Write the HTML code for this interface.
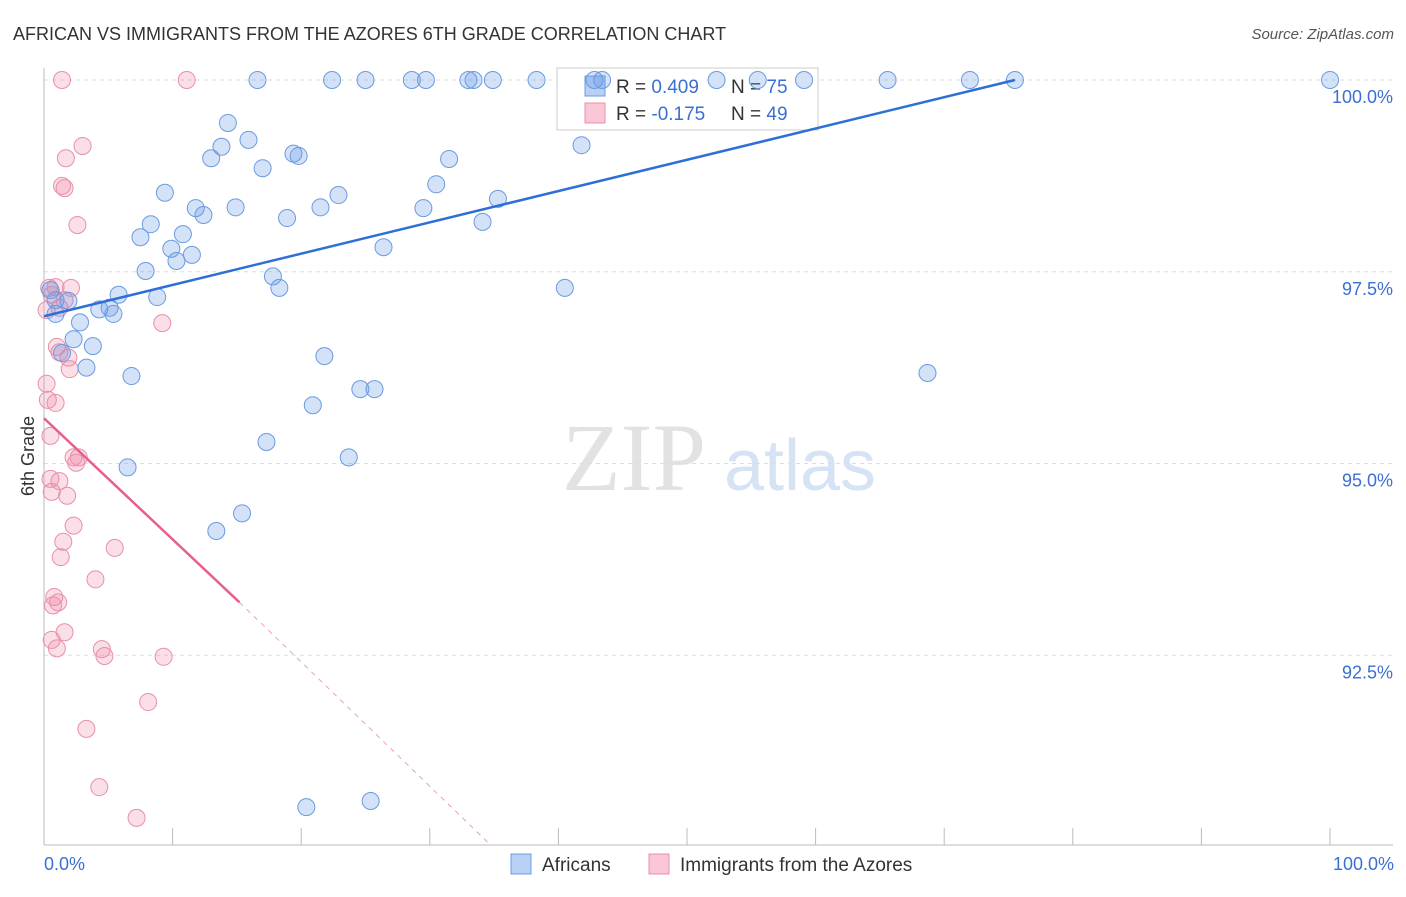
<!DOCTYPE html>
<html><head><meta charset="utf-8"><style>
body{margin:0;background:#fff;font-family:"Liberation Sans",sans-serif}
</style></head><body>
<svg id="chart" width="1406" height="892" xmlns="http://www.w3.org/2000/svg" font-family="Liberation Sans, sans-serif">
<text x="13" y="40" font-size="18" fill="#333">AFRICAN VS IMMIGRANTS FROM THE AZORES 6TH GRADE CORRELATION CHART</text>
<text x="1394" y="39" font-size="15" fill="#555" text-anchor="end" font-style="italic">Source: ZipAtlas.com</text>
<g>
<text x="634" y="490" font-size="96" fill="#e2e2e2" font-family="Liberation Serif, serif" text-anchor="middle">ZIP</text>
<text x="800" y="490" font-size="72" fill="#d6e3f5" text-anchor="middle">atlas</text>
</g>
<g id="grid"></g>
<line x1="44" y1="68" x2="44" y2="845" stroke="#bbb"/>
<line x1="44" y1="845" x2="1393" y2="845" stroke="#bbb"/>
<g id="xticks"></g>
<text transform="translate(34,456) rotate(-90)" font-size="18" fill="#333" text-anchor="middle">6th Grade</text>
<text x="44" y="870" font-size="18" fill="#3b6fd4">0.0%</text>
<text x="1394" y="870" font-size="18" fill="#3b6fd4" text-anchor="end">100.0%</text>
<g>
<rect x="557" y="68" width="261" height="62" fill="#fff" stroke="#ccc"/>
<rect x="585" y="76" width="20" height="20" fill="#b8d0f5" stroke="#6a9be0"/>
<rect x="585" y="103" width="20" height="20" fill="#f9c6d6" stroke="#e890ab"/>
<text x="616" y="93" font-size="19" fill="#333">R = <tspan fill="#3b6fd4">0.409</tspan><tspan x="731">N = </tspan><tspan fill="#3b6fd4">75</tspan></text>
<text x="616" y="120" font-size="19" fill="#333">R = <tspan fill="#3b6fd4">-0.175</tspan><tspan x="731">N = </tspan><tspan fill="#3b6fd4">49</tspan></text>
</g>
<g id="pink"></g>
<g id="blue"></g>
<g id="lines"></g>
<g>
<rect x="511" y="854" width="20" height="20" fill="#b8d0f5" stroke="#6a9be0"/>
<text x="542" y="871" font-size="19" fill="#333">Africans</text>
<rect x="649" y="854" width="20" height="20" fill="#f9c6d6" stroke="#e890ab"/>
<text x="680" y="871" font-size="19" fill="#333">Immigrants from the Azores</text>
</g>
</svg>
<script>
const yTicks=[100,97.5,95,92.5];
const yTickLabels=["100.0%","97.5%","95.0%","92.5%"];
const xTicks=[0,10,20,30,40,50,60,70,80,90,100];
const blueX=[16.6,22.4,25.0,28.6,29.7,33.0,33.4,34.9,38.3,42.8,43.4,52.3,55.5,59.1,65.6,72.0,75.5,100,14.3,13.8,15.9,13.0,17.0,19.4,19.8,31.5,41.8,9.4,11.8,12.4,14.9,18.9,21.5,22.9,30.5,29.5,35.3,34.1,8.3,7.5,10.8,9.9,10.3,11.5,26.4,7.9,17.8,18.3,40.5,5.8,8.8,4.3,5.1,5.4,1.9,0.9,2.8,2.3,3.8,1.4,3.3,6.8,21.8,24.6,25.7,20.9,68.7,17.3,23.7,6.5,15.4,13.4,20.4,25.4,0.5,0.9];
const blueY=[100,100,100,100,100,100,100,100,100,100,100,100,100,100,100,100,100,100,99.44,99.13,99.22,98.98,98.85,99.04,99.01,98.97,99.15,98.53,98.33,98.24,98.34,98.20,98.34,98.50,98.64,98.33,98.45,98.15,98.12,97.95,97.99,97.80,97.64,97.72,97.82,97.51,97.44,97.29,97.29,97.20,97.17,97.01,97.03,96.95,97.12,96.95,96.84,96.62,96.53,96.44,96.25,96.14,96.40,95.97,95.97,95.76,96.18,95.28,95.08,94.95,94.35,94.12,90.52,90.60,97.26,97.13];
const pinkX=[1.4,11.1,3.0,1.7,1.4,1.6,2.6,0.4,0.9,2.1,1.6,1.2,9.2,1.0,1.9,2.0,0.2,0.3,0.9,0.5,2.3,2.7,2.5,0.5,1.2,0.6,1.8,2.3,1.5,5.5,1.3,4.0,0.8,1.1,0.7,1.6,0.6,1.0,4.5,4.7,9.3,8.1,3.3,4.3,7.2,0.2,0.6,1.2];
const pinkY=[100,100,99.14,98.98,98.62,98.59,98.11,97.29,97.30,97.29,97.13,97.03,96.83,96.52,96.38,96.23,96.04,95.83,95.79,95.36,95.08,95.08,95.01,94.80,94.77,94.63,94.58,94.19,93.98,93.90,93.78,93.49,93.26,93.19,93.15,92.80,92.70,92.59,92.58,92.49,92.48,91.89,91.54,90.78,90.38,97.00,97.20,96.45];
const blueTrend=[0,96.92,75.5,100];
const pinkTrend=[0,95.59,15.2,93.19,34.7,90.03];
const NS="http://www.w3.org/2000/svg";
const sx=v=>44+v*12.86, sy=v=>80+(100-v)*76.7;
function mk(t,a,p){const e=document.createElementNS(NS,t);for(const k in a)e.setAttribute(k,a[k]);document.getElementById(p).appendChild(e);return e;}
yTicks.forEach((t,i)=>{
 const l=mk('line',{x1:44,x2:1393,y1:sy(t),y2:sy(t),stroke:'#ddd','stroke-dasharray':'4,4'},'grid');
 
 
 const tx=mk('text',{x:1393,y:sy(t)+23,'font-size':18,fill:'#3b6fd4','text-anchor':'end'},'grid');
 tx.textContent=yTickLabels[i];
 
 
});
xTicks.forEach(t=>{
 const l=mk('line',{x1:sx(t),x2:sx(t),y1:828,y2:845,stroke:'#bbb'},'xticks');
 
 
});
pinkX.forEach((x,i)=>{
 const c=mk('circle',{cx:sx(x),cy:sy(pinkY[i]),r:8.5,fill:'rgba(240,140,170,0.28)',stroke:'#e890ab','stroke-width':1},'pink');
 
 
});
blueX.forEach((x,i)=>{
 const c=mk('circle',{cx:sx(x),cy:sy(blueY[i]),r:8.5,fill:'rgba(100,150,230,0.28)',stroke:'#6a9be0','stroke-width':1},'blue');
 
 
});
const bl=mk('line',{x1:sx(blueTrend[0]),y1:sy(blueTrend[1]),x2:sx(blueTrend[2]),y2:sy(blueTrend[3]),stroke:'#2d6fd6','stroke-width':2.5},'lines');


const pl=mk('line',{x1:sx(pinkTrend[0]),y1:sy(pinkTrend[1]),x2:sx(pinkTrend[2]),y2:sy(pinkTrend[3]),stroke:'#e5608d','stroke-width':2.5},'lines');


const pd=mk('line',{x1:sx(pinkTrend[2]),y1:sy(pinkTrend[3]),x2:sx(pinkTrend[4]),y2:sy(pinkTrend[5]),stroke:'#eaa0b8','stroke-width':1,'stroke-dasharray':'5,5'},'lines');


</script>
</body></html>
